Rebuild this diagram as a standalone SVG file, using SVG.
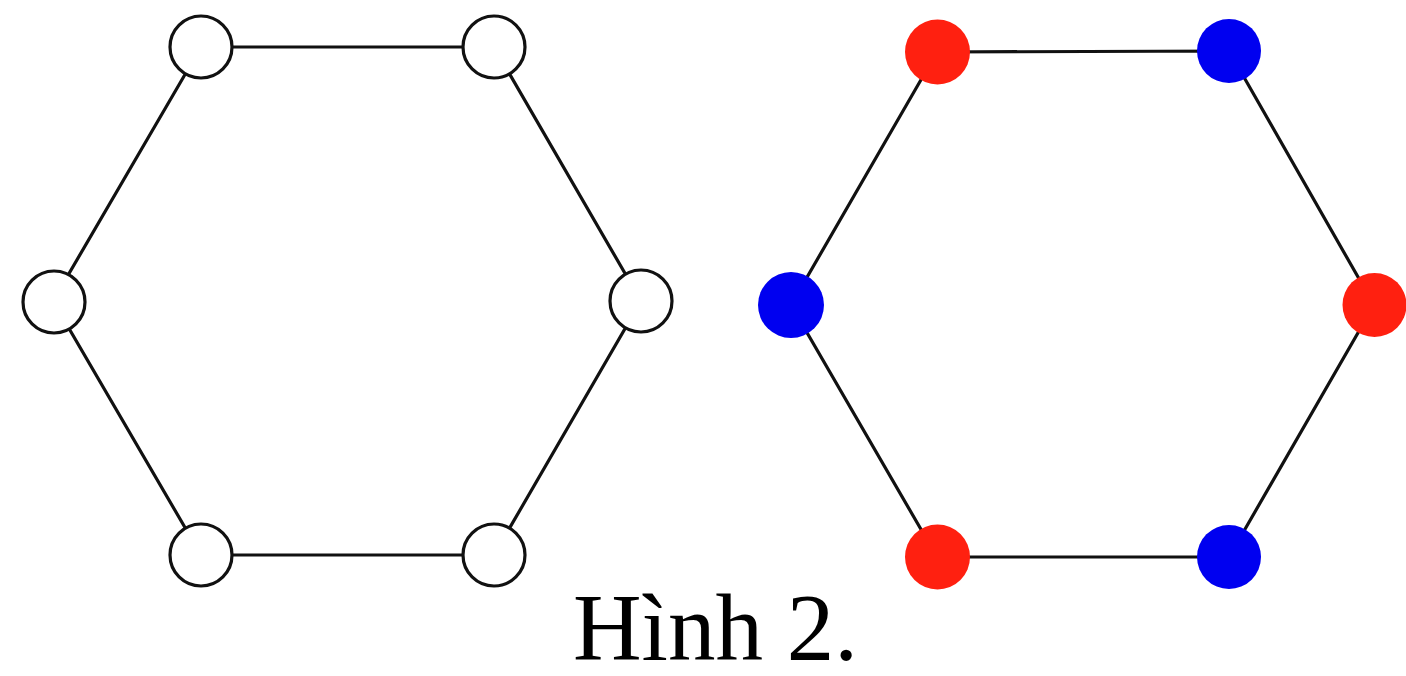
<svg xmlns="http://www.w3.org/2000/svg" width="1406" height="676" viewBox="0 0 1406 676">
<style>
.e{stroke:#111;stroke-width:3.2;fill:none}
.w{fill:#fff;stroke:#111;stroke-width:3.2}
.r{fill:#ff2010}
.b{fill:#0000f0}
.t{font-family:"Liberation Serif",serif;font-size:95px;fill:#000}
</style>
<rect width="1406" height="676" fill="#fff"/>
<g id="connectors">
<polygon class="e" points="201,47 494,47 641,301 494,555 201,555 53,301"/>
<polygon class="e" points="937,52 1229,51 1374,305 1229,557 937,557 791,305"/>
</g>
<g id="L1"><circle class="w" cx="201" cy="47" r="31"/></g>
<g id="L2"><circle class="w" cx="494" cy="47" r="31"/></g>
<g id="L3"><circle class="w" cx="641" cy="301" r="31"/></g>
<g id="L4"><circle class="w" cx="494" cy="555" r="31"/></g>
<g id="L5"><circle class="w" cx="201" cy="555" r="31"/></g>
<g id="L6"><circle class="w" cx="54" cy="302" r="31"/></g>
<g id="R1"><circle class="r" cx="937.5" cy="52" r="32.5"/></g>
<g id="R2"><circle class="b" cx="1229" cy="51" r="32"/></g>
<g id="R3"><circle class="r" cx="1374.5" cy="305" r="32"/></g>
<g id="R4"><circle class="b" cx="1229" cy="557" r="32"/></g>
<g id="R5"><circle class="r" cx="937.5" cy="557" r="32.5"/></g>
<g id="R6"><circle class="b" cx="791" cy="305" r="33"/></g>
<text class="t" x="573" y="660">Hình 2.</text>
</svg>
